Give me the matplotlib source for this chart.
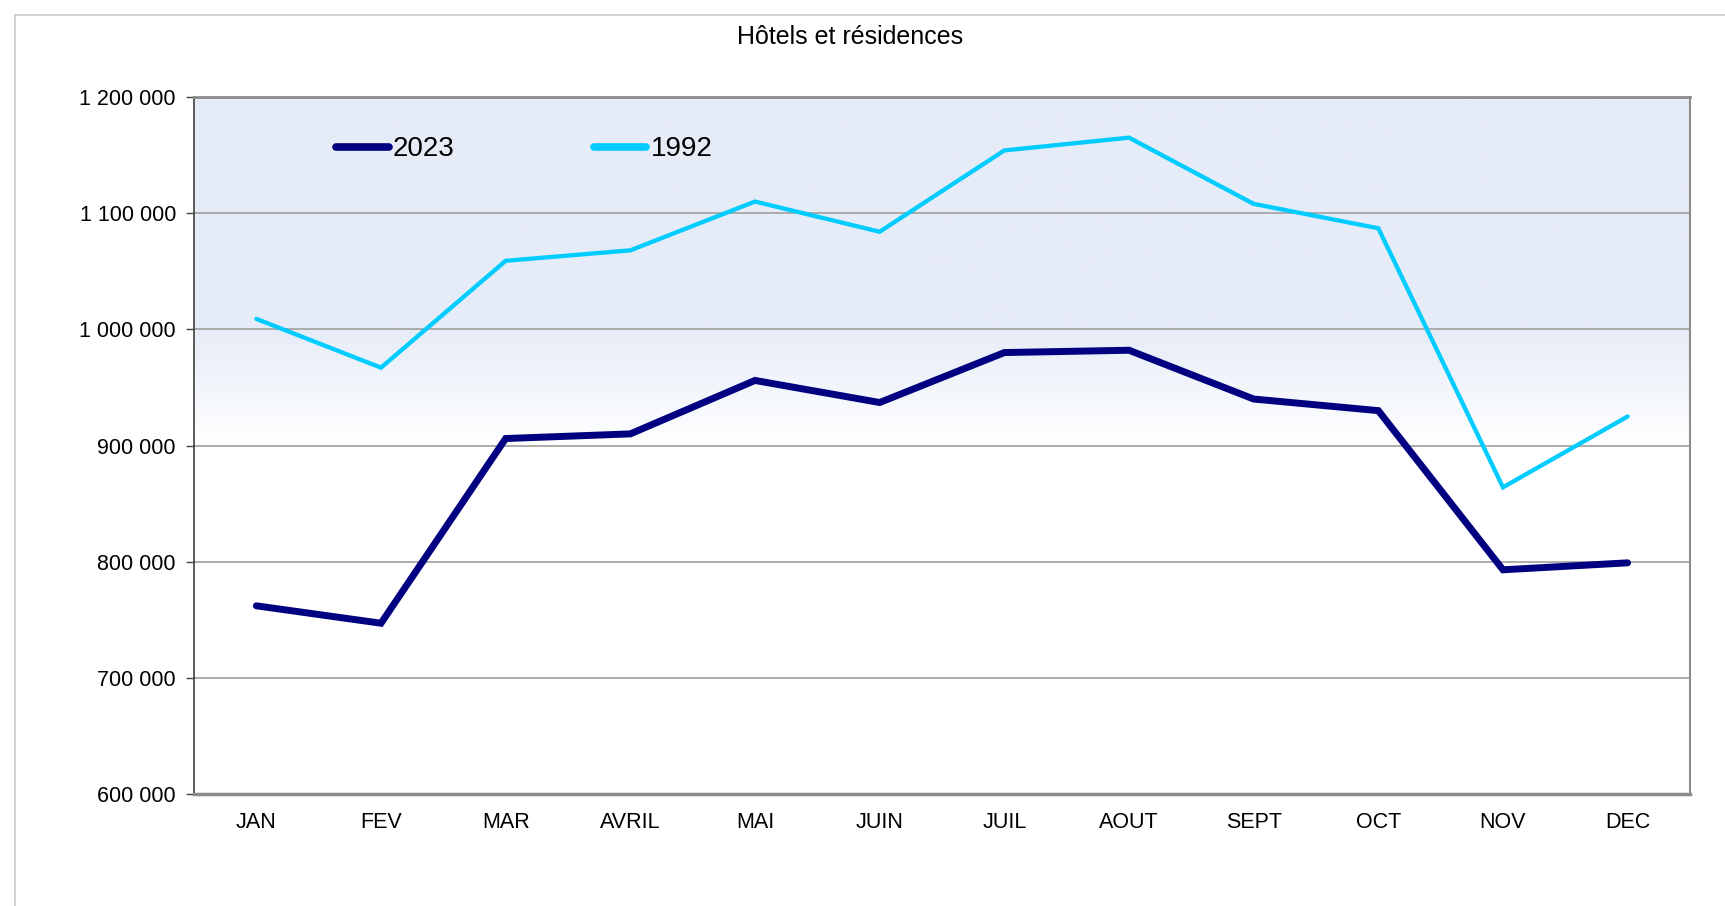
import numpy as np
import matplotlib
matplotlib.use("Agg")
from matplotlib import pyplot as plt
from matplotlib.colors import LinearSegmentedColormap
from matplotlib.patches import Rectangle

plt.rcParams['font.family'] = ['Liberation Sans', 'DejaVu Sans']

# data
mois = ["JAN", "FEV", "MAR", "AVRIL", "MAI", "JUIN", "JUIL", "AOUT", "SEPT", "OCT", "NOV", "DEC"]
serie_2023 = [762000, 747000, 906000, 910000, 956000, 937000, 980000, 982000, 940000, 930000, 793000, 799000]
serie_1992 = [1009000, 967000, 1059000, 1068000, 1110000, 1084000, 1154000, 1165000, 1108000, 1087000, 864000, 925000]
yticks = [600000, 700000, 800000, 900000, 1000000, 1100000, 1200000]

fig = plt.figure(figsize=(17.25, 9.06), dpi=100)

# outer frame
fig.patches.append(Rectangle((15/1725, -0.05), 1.2, 1 - 15/906 + 0.05, transform=fig.transFigure,
                             fill=False, edgecolor="#c8c8c8", linewidth=1.2))

# [left, bottom, width, height]
ax = fig.add_axes([194/1725, 1 - 794/906, (1690-194)/1725, (794-97)/906])

x = np.arange(len(mois))
ax.set_xlim(-0.5, len(mois) - 0.5)
ax.set_ylim(600000, 1200000)

# background gradient: light blue on top, fading to white between 1 000 000 and 900 000
grad = LinearSegmentedColormap.from_list("bg", [(0, "#ffffff"), (0.5, "#ffffff"), (0.667, "#e6ecf7"), (1, "#e6ecf7")])
g = np.linspace(0, 1, 512).reshape(-1, 1)
ax.imshow(g, cmap=grad, aspect="auto", origin="lower",
          extent=[-0.5, len(mois) - 0.5, 600000, 1200000], zorder=0)

for yt in yticks[1:-1]:
    ax.axhline(yt, color="#a6a6a6", linewidth=1.3, zorder=1)

ax.plot(x, serie_2023, color="#000080", linewidth=5, label="2023", zorder=3,
        solid_capstyle="round", solid_joinstyle="miter")
ax.plot(x, serie_1992, color="#00ccff", linewidth=3.1, label="1992", zorder=3,
        solid_capstyle="round", solid_joinstyle="miter")

ax.set_xticks(x)
ax.set_xticklabels(mois, fontsize=15.5)
ax.set_yticks(yticks)
ax.set_yticklabels([f"{v:,}".replace(",", " ") for v in yticks], fontsize=15.5)
ax.tick_params(axis="x", length=0, pad=13)
ax.tick_params(axis="y", length=6, width=1, color="#404040", pad=7)

ax.spines["left"].set_color("#404040")
ax.spines["left"].set_linewidth(1.2)
ax.spines["bottom"].set_color("#8c8c8c")
ax.spines["bottom"].set_linewidth(2.5)
ax.spines["top"].set_color("#8c8c8c")
ax.spines["top"].set_linewidth(2)
ax.spines["right"].set_color("#8c8c8c")
ax.spines["right"].set_linewidth(1.5)

leg = ax.legend(loc="center left", bbox_to_anchor=(0.095, 0.925), ncol=2, frameon=False,
                borderpad=0, borderaxespad=0,
                fontsize=20, handlelength=1.9, handletextpad=0.15, columnspacing=5.0)
for h in leg.legend_handles:
    h.set_solid_capstyle("round")
    h.set_linewidth(5.5)

fig.text(850/1725, 1 - 37/906, "Hôtels et résidences", ha="center", va="center", fontsize=18)

plt.savefig("out.png", dpi=100)
